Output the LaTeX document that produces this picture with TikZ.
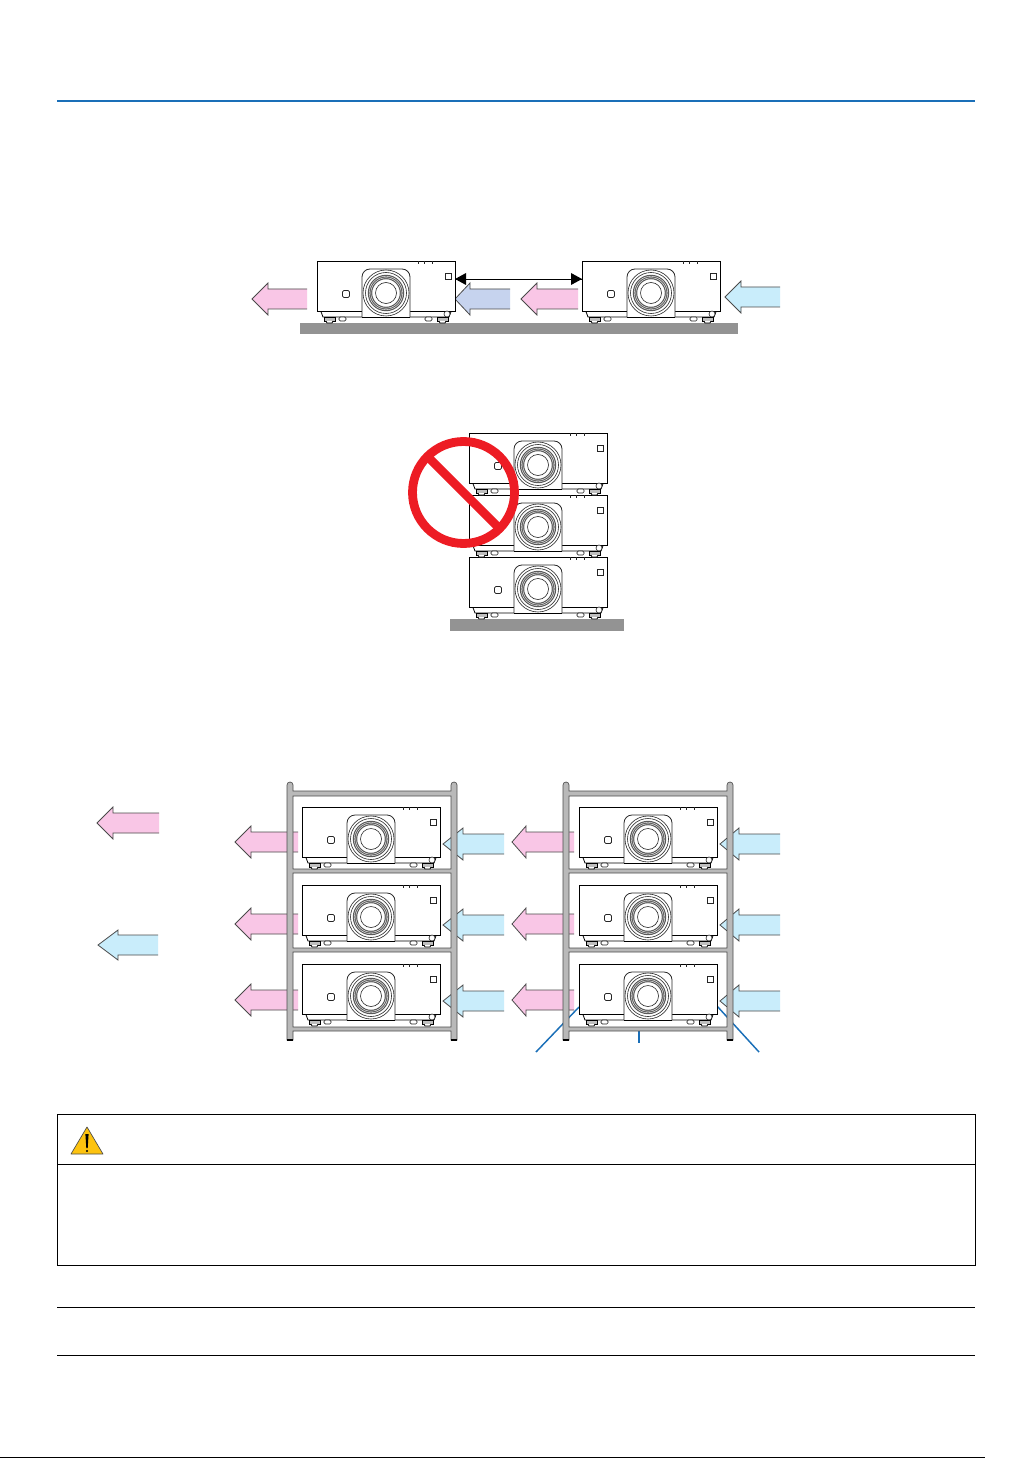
\documentclass[tikz,border=0pt]{standalone}
\definecolor{pinkf}{HTML}{F9C6E6}
\definecolor{cyanf}{HTML}{C9EDFB}
\definecolor{lavf}{HTML}{C6D3EE}
\definecolor{arrowedge}{HTML}{4A4A4A}
\definecolor{rackgray}{HTML}{B9B9B9}
\definecolor{floorgray}{HTML}{939393}
\definecolor{rulepurple}{HTML}{1A6FB8}
\definecolor{signred}{HTML}{ED1C24}
\definecolor{warnyellow}{HTML}{FDC30F}
\tikzset{
  thinblack/.style={draw=black,line width=0.6pt},
  lensline/.style={draw=black!85,line width=0.45pt},
  floorbar/.style={fill=floorgray,draw=none},
  flow/.style={draw=arrowedge,line width=0.6pt,line join=miter},
  leader/.style={draw=rulepurple,line width=1.1pt},
  pagerule/.style={draw=black,line width=0.75pt},
  projector/.pic={
    % under-strip and feet
    \draw[thinblack,fill=white] (3,48) -- (6,56) -- (132,56) -- (135,48) -- cycle;
    \draw[lensline,fill=white,rounded corners=1pt] (22,56) rectangle (29,60);
    \draw[lensline,fill=white,rounded corners=1pt] (108,56) rectangle (115,60);
    \draw[thinblack,fill=black!25] (7,56) rectangle (18,60);
    \draw[thinblack,fill=black!25] (120,56) rectangle (131,60);
    \draw[thinblack,fill=white] (9,60) -- (10,62) -- (15,62) -- (16,60);
    \draw[thinblack,fill=white] (122,60) -- (123,62) -- (128,62) -- (129,60);
    % body
    \draw[thinblack,fill=white] (0,0) rectangle (138,50);
    \draw[lensline,fill=white] (130,53) circle [radius=3];
    % vents
    \foreach \v in {101,107,115} \draw[lensline] (\v,0) -- (\v,3);
    % buttons
    \draw[lensline,line width=0.6pt,fill=white,rounded corners=1pt] (25.5,29.5) rectangle (32.5,36.5);
    \draw[lensline,line width=0.6pt,fill=white] (128,12.5) rectangle (134,18);
    % lens housing
    \draw[lensline,line width=0.6pt,fill=white,rounded corners=6pt] (45,56.2) -- (45,8) -- (93,8) -- (93,56.2);
    \draw[thinblack] (45,56) -- (93,56);
    % lens
    \draw[lensline,fill=white] (69,32) circle [radius=23];
    \draw[lensline] (69,32) circle [radius=20.5];
    \draw[black!65,line width=3.3pt] (69,32) circle [radius=16];
    \draw[white,line width=0.3pt] (69,32) circle [radius=15.2];
    \draw[white,line width=0.3pt] (69,32) circle [radius=16.8];
    \draw[lensline,fill=white] (69,32) circle [radius=10.5];
  },
  rack/.pic={
    \draw[draw=black!70,line width=0.5pt,fill=rackgray,even odd rule]
      (0,258) -- (0,3) arc[start angle=180,end angle=360,radius=3] -- (6,9) -- (164,9) -- (164,3)
      arc[start angle=180,end angle=360,radius=3] -- (170,258) -- (164,258) -- (164,249) -- (6,249) -- (6,258) -- cycle
      (6,14) rectangle (164,87)
      (6,91) rectangle (164,166)
      (6,170) rectangle (164,245);
    \draw[black,line width=1.2pt] (0,258) -- (6,258) (164,258) -- (170,258);
  }
}
\newcommand{\flowarrow}[6]{% fill, tip, back, end, y, head half height
  \filldraw[flow,fill=#1] (#4,#5-10) -- (#3,#5-10) -- (#3,#5-#6) -- (#2,#5) -- (#3,#5+#6) -- (#3,#5+10) -- (#4,#5+10);
}
\begin{document}
\begin{tikzpicture}[x=0.75pt,y=-0.75pt]
\useasboundingbox (0,0) rectangle (1033,1458);
\fill[white] (0,0) rectangle (1033,1458);

% top rule
\draw[draw=rulepurple,line width=1.3pt] (57,101) -- (975,101);

% row of two projectors
\fill[floorbar] (300,323) rectangle (738,334);
\flowarrow{pinkf}{252}{268}{307}{299}{16}
\flowarrow{lavf}{455}{470}{510}{299}{16}
\flowarrow{pinkf}{521}{537}{578}{299}{16}
\flowarrow{cyanf}{725}{741}{780}{297}{16}
\pic at (317,261) {projector};
\pic at (582,261) {projector};
\coordinate (gapL) at (455,279);
\coordinate (gapR) at (582,279);
\draw[black,line width=0.6pt] (gapL) -- (gapR);
\fill[black] (gapL) -- ++(11,-6) -- ++(0,12) -- cycle;
\fill[black] (gapR) -- ++(-11,-6) -- ++(0,12) -- cycle;

% forbidden stack
\fill[floorbar] (450,619) rectangle (624,631);
\pic at (469,557) {projector};
\pic at (469,495) {projector};
\pic at (469,433) {projector};
\draw[signred,line width=6.6pt] (463.5,492.5) circle [radius=51];
\draw[signred,line width=6.6pt] (427.5,456.5) -- (499.5,528.5);

% legend arrows
\flowarrow{pinkf}{97}{113}{159}{823}{16}
\flowarrow{cyanf}{98}{118}{158}{945}{15}

% flows through racks
\foreach \yy in {842,924,1000} {
  \flowarrow{pinkf}{235}{251}{298}{\yy}{16}
  \flowarrow{pinkf}{512}{526}{574}{\yy}{16}
}
\foreach \yy in {844,925,1001} {
  \flowarrow{cyanf}{443}{463}{504}{\yy}{16}
  \flowarrow{cyanf}{720}{739}{780}{\yy}{16}
}

% leaders (behind racks)
\draw[leader] (536,1052) -- (579,1007);
\draw[leader] (639,1029) -- (639,1043);
\draw[leader] (717,1006) -- (759,1052);

% racks
\pic at (287,782) {rack};
\pic at (563,782) {rack};
\foreach \xx in {302,579} {
  \pic at (\xx,964) {projector};
  \pic at (\xx,885) {projector};
  \pic at (\xx,807) {projector};
}

% caution box
\draw[pagerule] (57,1114) rectangle (975,1265);
\draw[pagerule] (57,1164) -- (975,1164);
\filldraw[fill=warnyellow,draw=black!70,line width=0.5pt,line join=round] (87,1127) -- (103,1154) -- (71,1154) -- cycle;
\fill[black] (85.4,1134) -- (88.6,1134) -- (87.7,1148) -- (86.3,1148) -- cycle;
\fill[black] (87,1151) circle [radius=1.1];

% lower rules
\draw[pagerule] (57,1307) -- (975,1307);
\draw[pagerule] (57,1355) -- (975,1355);
\draw[black,line width=0.9pt] (0,1457.3) -- (985,1457.3);
\end{tikzpicture}
\end{document}
